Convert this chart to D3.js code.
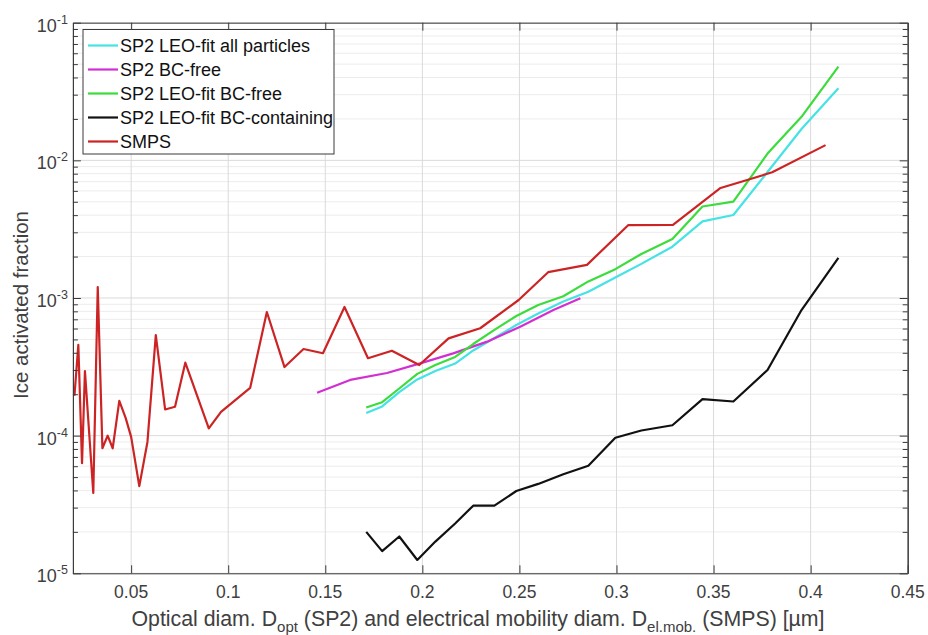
<!DOCTYPE html>
<html>
<head>
<meta charset="utf-8">
<script src="https://cdn.jsdelivr.net/npm/d3@7"></script>
<style>
body { margin: 0; background: #fff; }
svg { font-family: "Liberation Sans", Arial, Helvetica, sans-serif; }
.axis path, .axis line { stroke: #3a3a3a; }
</style>
</head>
<body>
<svg width="928" height="635"></svg>
<script>
// SMPS (electrical mobility diameter)
var smpsDiam = [0.0208, 0.0228, 0.0247, 0.0262, 0.0305, 0.0328, 0.0352, 0.0379, 0.0405, 0.0439,
    0.0472, 0.0500, 0.0542, 0.0584, 0.0627, 0.0675, 0.0726, 0.0779, 0.0900, 0.0963,
    0.1113, 0.1199, 0.1290, 0.1388, 0.1488, 0.1599, 0.1720, 0.1843, 0.1984, 0.2135,
    0.2298, 0.2496, 0.2648, 0.2848, 0.3060, 0.3291, 0.3536, 0.3673, 0.3802, 0.4077];
var smpsFrac = [1.95e-4, 4.56e-4, 6.3e-5, 2.95e-4, 3.83e-5, 1.2e-3, 8.1e-5, 1.0e-4, 8.1e-5, 1.79e-4,
    1.34e-4, 9.8e-5, 4.3e-5, 9.0e-5, 5.38e-4, 1.55e-4, 1.62e-4, 3.39e-4, 1.13e-4, 1.49e-4,
    2.22e-4, 7.91e-4, 3.15e-4, 4.26e-4, 3.97e-4, 8.61e-4, 3.65e-4, 4.14e-4, 3.26e-4, 5.09e-4,
    6.03e-4, 9.67e-4, 1.54e-3, 1.74e-3, 3.38e-3, 3.4e-3, 6.3e-3, 7.2e-3, 8.19e-3, 1.29e-2];

// SP2 LEO-fit bins (optical diameter)
var sp2Diam = [0.1711, 0.1793, 0.1881, 0.1974, 0.2067, 0.2169, 0.2262, 0.2371, 0.2484, 0.2597,
    0.2726, 0.2855, 0.2994, 0.3128, 0.3288, 0.3443, 0.3602, 0.3778, 0.3953, 0.4143];
var sp2AllFit = [1.46e-4, 1.63e-4, 2.07e-4, 2.56e-4, 2.95e-4, 3.34e-4, 4.16e-4, 5.12e-4, 6.37e-4, 7.71e-4,
    9.44e-4, 1.11e-3, 1.41e-3, 1.77e-3, 2.36e-3, 3.60e-3, 4.01e-3, 8.23e-3, 1.69e-2, 3.34e-2];
var sp2FreeFit = [1.60e-4, 1.75e-4, 2.20e-4, 2.81e-4, 3.26e-4, 3.73e-4, 4.63e-4, 5.86e-4, 7.40e-4, 8.90e-4,
    1.03e-3, 1.32e-3, 1.62e-3, 2.09e-3, 2.68e-3, 4.62e-3, 5.02e-3, 1.12e-2, 2.07e-2, 4.79e-2];
var sp2ContFit = [2.00e-5, 1.45e-5, 1.85e-5, 1.25e-5, 1.70e-5, 2.3e-5, 3.10e-5, 3.10e-5, 3.96e-5, 4.46e-5,
    5.24e-5, 6.05e-5, 9.66e-5, 1.09e-4, 1.19e-4, 1.84e-4, 1.77e-4, 3.00e-4, 8.18e-4, 1.96e-3];

// SP2 BC-free (no fit)
var sp2FreeDiam = [0.1458, 0.1628, 0.1818, 0.1989, 0.2159, 0.2334, 0.2504, 0.2675, 0.2814];
var sp2FreeFrac = [2.05e-4, 2.54e-4, 2.85e-4, 3.35e-4, 3.96e-4, 4.82e-4, 6.19e-4, 8.18e-4, 9.95e-4];

var seriesNames = ['SP2 LEO-fit all particles', 'SP2 BC-free', 'SP2 LEO-fit BC-free',
    'SP2 LEO-fit BC-containing', 'SMPS'];
var seriesColors = ['#45e3e3', '#d22fd2', '#3cdc3c', '#111111', '#cc2424'];

var xTicks = [0.05, 0.1, 0.15, 0.2, 0.25, 0.3, 0.35, 0.4, 0.45];
var yExponents = [-5, -4, -3, -2, -1];

var svg = d3.select('svg');
var plot = {l: 72.9, t: 22.7, r: 907.7, b: 573.3};
var w = plot.r - plot.l, h = plot.b - plot.t;

var xScale = d3.scaleLinear().domain([0.02, 0.45]).range([0, w]);
var yScale = d3.scaleLog().domain([1e-5, 1e-1]).range([h, 0]);

var yMajor = yExponents.map(function(e) { return Math.pow(10, e); });
var yMinor = [];
yExponents.slice(0, -1).forEach(function(e) {
    for (var k = 2; k <= 9; k++) yMinor.push(k * Math.pow(10, e));
});

var g = svg.append('g').attr('transform', 'translate(' + [plot.l, plot.t] + ')');

// grid
g.append('g').selectAll('line').data(yMinor).enter().append('line')
    .attr('x1', 0).attr('x2', w)
    .attr('y1', function(d) { return yScale(d); }).attr('y2', function(d) { return yScale(d); })
    .style('stroke', '#ececec').style('stroke-width', 1);
g.append('g').selectAll('line').data(yMajor).enter().append('line')
    .attr('x1', 0).attr('x2', w)
    .attr('y1', function(d) { return yScale(d); }).attr('y2', function(d) { return yScale(d); })
    .style('stroke', '#dadada').style('stroke-width', 1);
g.append('g').selectAll('line').data(xTicks).enter().append('line')
    .attr('y1', 0).attr('y2', h)
    .attr('x1', function(d) { return xScale(d); }).attr('x2', function(d) { return xScale(d); })
    .style('stroke', '#dadada').style('stroke-width', 1);

// data lines
var line = d3.line()
    .x(function(d) { return xScale(d[0]); })
    .y(function(d) { return yScale(d[1]); });

var seriesData = [
    d3.zip(sp2Diam, sp2AllFit),
    d3.zip(sp2FreeDiam, sp2FreeFrac),
    d3.zip(sp2Diam, sp2FreeFit),
    d3.zip(sp2Diam, sp2ContFit),
    d3.zip(smpsDiam, smpsFrac)
];

g.selectAll('.series').data(seriesData).enter().append('path')
    .attr('class', 'series')
    .attr('d', line)
    .style('fill', 'none')
    .style('stroke', function(d, i) { return seriesColors[i]; })
    .style('stroke-width', 2.2)
    .style('stroke-linejoin', 'round');

// axes (ticks inside, box on)
function styleAxis(sel) {
    sel.attr('class', 'axis').selectAll('text').remove();
}
g.append('g').attr('transform', 'translate(0,' + h + ')')
    .call(d3.axisBottom(xScale).tickValues(xTicks).tickSizeInner(-8).tickSizeOuter(0).tickFormat(''))
    .call(styleAxis);
g.append('g')
    .call(d3.axisTop(xScale).tickValues(xTicks).tickSizeInner(-8).tickSizeOuter(0).tickFormat(''))
    .call(styleAxis);
g.append('g')
    .call(d3.axisLeft(yScale).tickValues(yMajor).tickSizeInner(-8).tickSizeOuter(0).tickFormat(''))
    .call(styleAxis);
g.append('g')
    .call(d3.axisLeft(yScale).tickValues(yMinor).tickSizeInner(-5).tickSizeOuter(0).tickFormat(''))
    .call(styleAxis);
g.append('g').attr('transform', 'translate(' + w + ',0)')
    .call(d3.axisRight(yScale).tickValues(yMajor).tickSizeInner(-8).tickSizeOuter(0).tickFormat(''))
    .call(styleAxis);
g.append('g').attr('transform', 'translate(' + w + ',0)')
    .call(d3.axisRight(yScale).tickValues(yMinor).tickSizeInner(-5).tickSizeOuter(0).tickFormat(''))
    .call(styleAxis);

// tick labels
g.append('g').selectAll('text').data(xTicks).enter().append('text')
    .attr('x', function(d) { return xScale(d); })
    .attr('y', h + 24.5)
    .attr('text-anchor', 'middle')
    .style('font-size', '17.5px')
    .style('fill', '#404040')
    .text(function(d) { return d3.format('')(d); });

var yLab = g.append('g').selectAll('text').data(yExponents).enter().append('text')
    .attr('x', -5)
    .attr('y', function(e) { return yScale(Math.pow(10, e)) + 9; })
    .attr('text-anchor', 'end')
    .style('font-size', '18px')
    .style('fill', '#404040');
yLab.append('tspan').text('10');
yLab.append('tspan').attr('dy', -8).style('font-size', '12.5px').text(function(e) { return e; });

// axis titles
var xTitle = svg.append('text')
    .attr('x', 478).attr('y', 626)
    .attr('text-anchor', 'middle')
    .style('font-size', '21.3px')
    .style('fill', '#404040');
xTitle.append('tspan').text('Optical diam. D');
xTitle.append('tspan').attr('dy', 6).style('font-size', '15px').text('opt');
xTitle.append('tspan').attr('dy', -6).text(' (SP2) and electrical mobility diam. D');
xTitle.append('tspan').attr('dy', 6).style('font-size', '15px').text('el.mob.');
xTitle.append('tspan').attr('dy', -6).text(' (SMPS) [µm]');

svg.append('text')
    .attr('transform', 'translate(28,305) rotate(-90)')
    .attr('text-anchor', 'middle')
    .style('font-size', '20.5px')
    .style('fill', '#404040')
    .text('Ice activated fraction');

// legend
var legend = svg.append('g').attr('transform', 'translate(83,29.5)');
legend.append('rect')
    .attr('width', 251).attr('height', 124.5)
    .style('fill', '#fff').style('stroke', '#3a3a3a').style('stroke-width', 1);
var item = legend.selectAll('.item').data(seriesNames).enter().append('g')
    .attr('class', 'item')
    .attr('transform', function(d, i) { return 'translate(0,' + (16 + i * 24) + ')'; });
item.append('line')
    .attr('x1', 5).attr('x2', 35)
    .style('stroke', function(d, i) { return seriesColors[i]; })
    .style('stroke-width', 2.2);
item.append('text')
    .attr('x', 37).attr('y', 6)
    .style('font-size', '18px')
    .style('fill', '#111')
    .text(function(d) { return d; });
</script>
</body>
</html>
